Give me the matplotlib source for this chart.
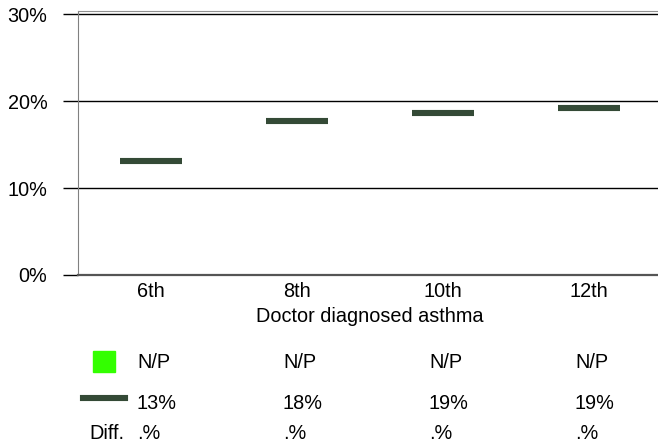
import matplotlib
matplotlib.use('Agg')
import matplotlib.pyplot as plt
from matplotlib.transforms import blended_transform_factory
from matplotlib.patches import Rectangle
from matplotlib.lines import Line2D

plt.rcParams['font.family'] = ['Liberation Sans', 'DejaVu Sans']

#---------data-----------------------------
grades = ['6th', '8th', '10th', '12th']
asthma = [13.1, 17.7, 18.6, 19.2]          # doctor diagnosed asthma, %
row_np = ['N/P', 'N/P', 'N/P', 'N/P']
row_pct = ['13%', '18%', '19%', '19%']
row_diff = ['.%', '.%', '.%', '.%']
yticks = [0, 10, 20, 30]
ytick_labels = ['0%', '10%', '20%', '30%']

W, H = 658, 444
FS = 14.3
fig = plt.figure(figsize=(W / 100, H / 100), dpi=100)
ax = fig.add_axes([78 / W, 1 - 275 / H, 584 / W, 264 / H])

dark = '#344a36'
xs = list(range(len(grades)))
ax.hlines(asthma, [x - 0.215 for x in xs], [x + 0.215 for x in xs],
          colors=dark, linewidth=4.4, capstyle='butt', zorder=3)

ax.set_xlim(-0.5, len(grades) - 0.5)
ax.set_ylim(0, 30.35)
ax.set_yticks(yticks)
ax.set_yticklabels(ytick_labels)
ax.yaxis.grid(True, color='black', linewidth=1)
ax.set_axisbelow(True)
ax.tick_params(axis='y', length=11, width=1, pad=11, labelsize=FS, color='black')
ax.set_xticks(xs)
ax.set_xticklabels(grades)
ax.tick_params(axis='x', length=0, pad=5, labelsize=FS)
ax.set_xlabel('Doctor diagnosed asthma', fontsize=FS, labelpad=4)

ax.spines['right'].set_visible(False)
ax.spines['top'].set_color('#909090')
ax.spines['left'].set_color('#808080')
ax.spines['bottom'].set_color('#555555')
ax.spines['bottom'].set_linewidth(1.6)

# table under the chart
tr = blended_transform_factory(ax.transData, fig.transFigure)
rows = [(row_np, 362), (row_pct, 403), (row_diff, 433)]
for vals, ypx in rows:
    for x, v in zip(xs, vals):
        fig.text(x - 0.096, 1 - ypx / H, v, transform=tr, fontsize=FS,
                 ha='left', va='center')
fig.text(124 / W, 1 - 433 / H, 'Diff.', fontsize=FS, ha='right', va='center')

# legend keys
fig.patches.append(Rectangle((93 / W, 1 - 372 / H), 22 / W, 21 / H,
                             transform=fig.transFigure, color='#33ff00'))
fig.lines.append(Line2D([83 / W, 125 / W], [1 - 398 / H, 1 - 398 / H],
                        transform=fig.transFigure, color=dark, linewidth=4.4))

fig.savefig('out.png', dpi=100)
